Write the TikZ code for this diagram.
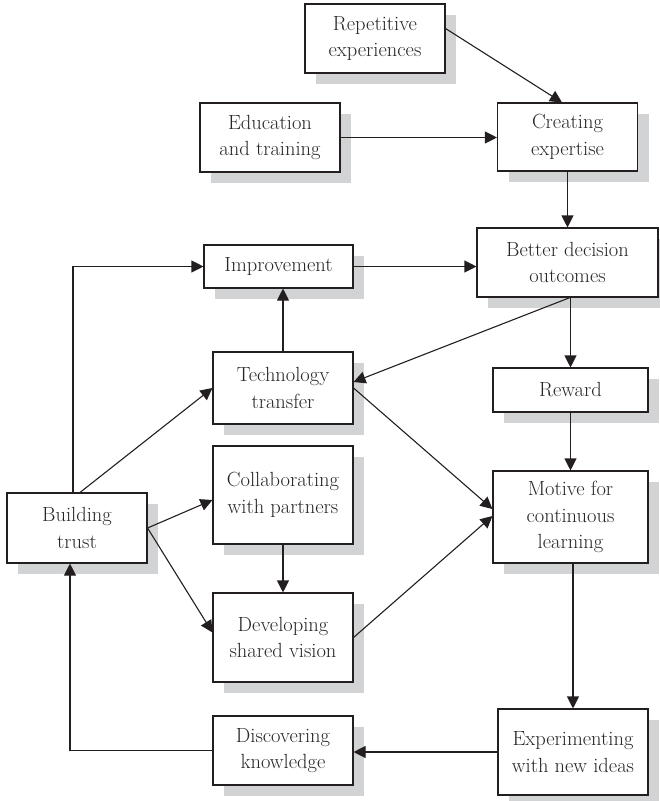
\documentclass[tikz,border=0pt]{standalone}
\usepackage{fontspec}
\usetikzlibrary{arrows.meta,shadows,calc}
\definecolor{shadowgray}{HTML}{D1D3D4}
\definecolor{inkline}{HTML}{231F20}
\definecolor{inktext}{HTML}{262626}
\tikzset{
  box/.style={draw=inkline, line width=1.1pt, fill=white, text=inktext,
    align=center, inner sep=2pt,
    font=\fontsize{20.5}{26.5}\selectfont,
    drop shadow={shadow xshift=11pt, shadow yshift=-11pt,
      fill=shadowgray, opacity=1}},
  arr/.style={draw=inkline, line width=1.1pt,
    -{Triangle[length=12pt,width=12pt]}}
}
\begin{document}
\begin{tikzpicture}[x=1pt,y=-1pt]
\useasboundingbox (0,0) rectangle (660,801);

% boxes
\node[box, minimum width=140pt, minimum height=69pt] (rep) at (375,38.5) {Repetitive\\experiences};
\node[box, minimum width=140pt, minimum height=69pt] (edu) at (270,137.5) {Education\\and training};
\node[box, minimum width=140pt, minimum height=68pt] (cre) at (567.5,137) {Creating\\expertise};
\node[box, minimum width=181pt, minimum height=69pt] (bet) at (567.5,262.5) {Better decision\\outcomes};
\node[box, minimum width=149pt, minimum height=43pt] (imp) at (278.5,266.5) {Improvement};
\node[box, minimum width=140pt, minimum height=72pt] (tec) at (283,388) {Technology\\transfer};
\node[box, minimum width=155pt, minimum height=44pt] (rew) at (570.5,390) {Reward};
\node[box, minimum width=140pt, minimum height=98pt] (col) at (283,495) {Collaborating\\with partners};
\node[box, minimum width=140pt, minimum height=89pt] (dev) at (283,637.5) {Developing\\shared vision};
\node[box, minimum width=155pt, minimum height=92pt] (mot) at (570.5,517) {Motive for\\continuous\\learning};
\node[box, minimum width=140pt, minimum height=70pt] (bui) at (77,528) {Building\\trust};
\node[box, minimum width=140pt, minimum height=69pt] (dis) at (283,750.5) {Discovering\\knowledge};
\node[box, minimum width=150pt, minimum height=86pt] (exp) at (573,752) {Experimenting\\with new ideas};

% connectors
\draw[arr] ([yshift=10pt]rep.east) -- ([xshift=-5.5pt]cre.north);
\draw[arr] (edu.east) -- (edu.east -| cre.west);
\draw[arr] (cre.south) -- (bet.north);
\draw[arr] (imp.east) -- (imp.east -| bet.west);
\draw[arr] ([xshift=-4pt]bui.north) |- (imp.west);
\draw[arr] ([xshift=3pt]bui.north) -- (tec.west);
\draw[arr] (tec.north) -- (tec.north |- imp.south);
\draw[arr] ([xshift=2.5pt]bet.south) -- ([yshift=6pt]tec.east);
\draw[arr] (rew.north |- bet.south) -- (rew.north);
\draw[arr] (rew.south) -- (mot.north);
\draw[arr] (tec.east) -- ([yshift=8pt]mot.west);
\draw[arr] (bui.east) -- ([yshift=-5pt]col.west);
\draw[arr] (bui.east) -- ([yshift=5pt]dev.west);
\draw[arr] (col.south) -- (dev.north);
\draw[arr] (dev.east) -- ([yshift=1pt]mot.west);
\draw[arr] (exp.north |- mot.south) -- (exp.north);
\draw[arr] (exp.west) -- (exp.west -| dis.east);
\draw[arr] (dis.west) -| ([xshift=-7pt]bui.south);
\end{tikzpicture}
\end{document}
